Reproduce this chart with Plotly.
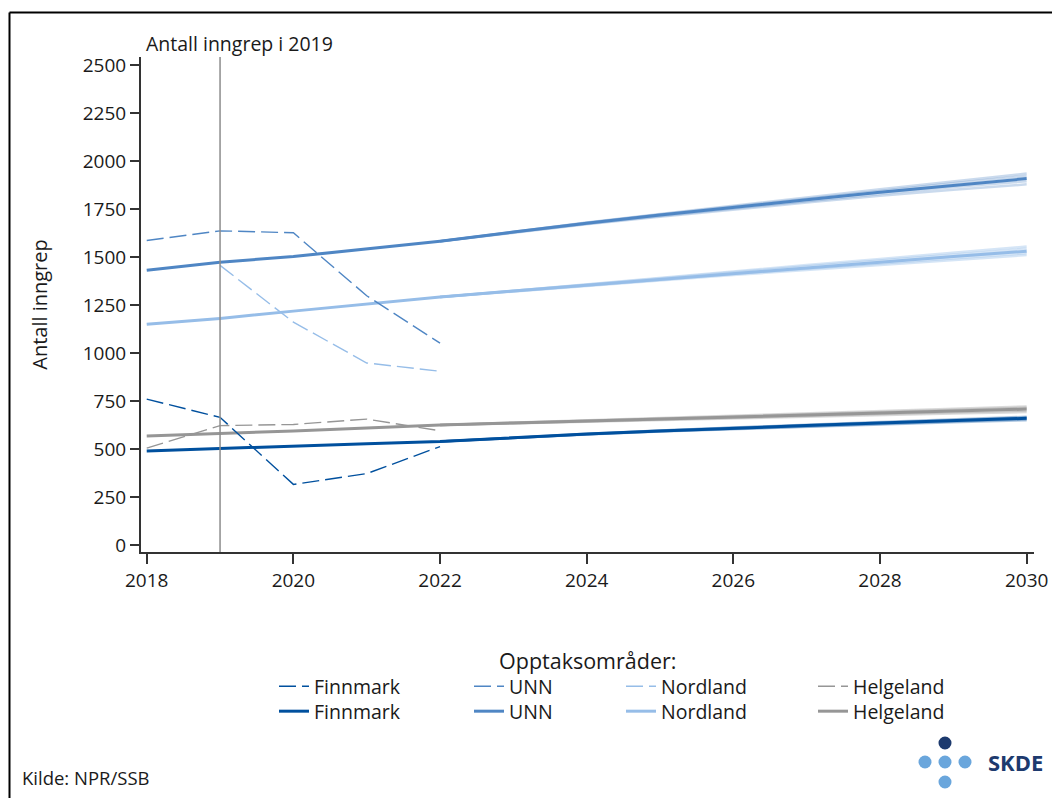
import plotly.graph_objects as go

# ---------------- data ----------------
regions = ["Finnmark", "UNN", "Nordland", "Helgeland"]
years = list(range(2018, 2031))
obs_years = [2018, 2019, 2020, 2021, 2022]
band_years = list(range(2022, 2031))

# observed number of procedures (dashed)
obs_finnmark = [762, 667, 318, 374, 515]
obs_unn = [1588, 1638, 1628, 1300, 1053]
obs_nordland = [None, 1458, 1163, 950, 907]
obs_helgeland = [507, 624, 630, 658, 597]

# projected, main scenario (solid)
proj_finnmark = [492, 505, 520, 530, 541, 561, 580, 596, 611, 624, 637, 650, 662]
proj_unn = [1433, 1475, 1504, 1543, 1584, 1632, 1678, 1720, 1761, 1800, 1839, 1876, 1910]
proj_nordland = [1152, 1182, 1220, 1257, 1293, 1325, 1355, 1387, 1418, 1447, 1475, 1504, 1532]
proj_helgeland = [570, 582, 596, 611, 627, 638, 648, 659, 669, 679, 689, 699, 710]

# alternative scenarios 2022-2030 (light fan lines)
alt_finnmark = [
    [541, 562, 582, 599, 615, 629, 643, 657, 670],
    [541, 561, 581, 598, 613, 627, 640, 654, 666],
    [541, 560, 579, 594, 608, 621, 633, 645, 657],
    [541, 560, 578, 593, 606, 618, 630, 641, 652],
]
alt_unn = [
    [1584, 1633, 1682, 1726, 1770, 1812, 1854, 1896, 1936],
    [1584, 1632, 1680, 1723, 1765, 1806, 1846, 1886, 1924],
    [1584, 1630, 1675, 1715, 1755, 1792, 1830, 1866, 1896],
    [1584, 1629, 1672, 1711, 1749, 1785, 1820, 1852, 1880],
]
alt_nordland = [
    [1293, 1327, 1359, 1394, 1428, 1460, 1492, 1525, 1556],
    [1293, 1326, 1357, 1390, 1423, 1453, 1483, 1515, 1545],
    [1293, 1324, 1352, 1383, 1413, 1441, 1468, 1496, 1522],
    [1293, 1323, 1350, 1380, 1408, 1434, 1460, 1486, 1512],
]
alt_helgeland = [
    [627, 639, 651, 663, 675, 687, 699, 711, 724],
    [627, 639, 650, 661, 672, 683, 694, 705, 717],
    [627, 637, 646, 656, 665, 675, 684, 693, 703],
    [627, 636, 645, 654, 662, 671, 679, 687, 695],
]

y_ticks = [0, 250, 500, 750, 1000, 1250, 1500, 1750, 2000, 2250, 2500]
x_ticks = [2018, 2020, 2022, 2024, 2026, 2028, 2030]

# ---------------- style ----------------
colors = {"Finnmark": "#00509e", "UNN": "#4f86c4", "Nordland": "#96bde8", "Helgeland": "#969696"}
band_rgba = {"Finnmark": "rgba(0,80,158,0.30)", "UNN": "rgba(79,134,196,0.30)",
             "Nordland": "rgba(150,189,232,0.40)", "Helgeland": "rgba(150,150,150,0.35)"}
FONT = "Open Sans"
TXT = "#1a1a1a"
W, H = 1052, 798
L, R, T, B = 141, 18, 57, 246
PW, PH = W - L - R, H - T - B


def px(xp):
    return (xp - L) / PW


def py(yp):
    return (H - B - yp) / PH


obs = {"Finnmark": obs_finnmark, "UNN": obs_unn, "Nordland": obs_nordland, "Helgeland": obs_helgeland}
proj = {"Finnmark": proj_finnmark, "UNN": proj_unn, "Nordland": proj_nordland, "Helgeland": proj_helgeland}
alts = {"Finnmark": alt_finnmark, "UNN": alt_unn, "Nordland": alt_nordland, "Helgeland": alt_helgeland}
legend_text_x = {"Finnmark": 316, "UNN": 511, "Nordland": 663, "Helgeland": 855}

legend_common = dict(orientation="v", xanchor="left", yanchor="top", traceorder="normal",
                     font=dict(family=FONT, size=19.5, color=TXT),
                     bgcolor="rgba(0,0,0,0)", tracegroupgap=0)
legends = {}

fig = go.Figure()

for r in regions:
    for a in alts[r]:
        fig.add_trace(go.Scatter(x=band_years, y=a, mode="lines", showlegend=False,
                                 hoverinfo="skip",
                                 line=dict(color=band_rgba[r], width=2.5)))

# solid (projection) entries -> legends 5..8 (second row)
for i, r in enumerate(regions):
    lid = "legend%d" % (5 + i)
    legends[lid] = dict(x=px(legend_text_x[r] - 42), y=py(692), **legend_common)
    fig.add_trace(go.Scatter(x=years, y=proj[r], mode="lines", name=r, legend=lid,
                             line=dict(color=colors[r], width=3)))

# dashed (observed) entries -> legends 1..4 (first row)
for i, r in enumerate(regions):
    lid = "legend" if i == 0 else "legend%d" % (1 + i)
    legends[lid] = dict(x=px(legend_text_x[r] - 42), y=py(667), **legend_common)
    fig.add_trace(go.Scatter(x=obs_years, y=obs[r], mode="lines", name=r, legend=lid,
                             line=dict(color=colors[r], width=1.4, dash="17px,6px")))

axis_common = dict(showline=True, linecolor="#333333", linewidth=2, ticks="outside",
                   tickcolor="#333333", tickwidth=2, showgrid=False, zeroline=False,
                   tickfont=dict(family=FONT, size=19, color=TXT))

fig.update_xaxes(range=[2017.922, 2030.1], tickvals=x_ticks, ticklen=10, **axis_common)
fig.update_yaxes(range=[-34, 2543], tickvals=y_ticks, ticklen=9, **axis_common,
                 title=dict(text="Antall inngrep", font=dict(family=FONT, size=20, color=TXT),
                            standoff=30))

shapes = [
    dict(type="line", xref="x", yref="paper", x0=2019, x1=2019, y0=0, y1=1,
         line=dict(color="#8c8c8c", width=1.5)),
    # frame (cropped)
    dict(type="line", xref="paper", yref="paper", x0=px(9.5), x1=px(1060), y0=py(12.5), y1=py(12.5),
         line=dict(color="black", width=2)),
    dict(type="line", xref="paper", yref="paper", x0=px(9.5), x1=px(9.5), y0=py(12.5), y1=py(810),
         line=dict(color="black", width=2)),
]
# logo dots
dot_r = 6.5
for (cx, cy, c) in [(945, 743, "#1d3a6e"), (925, 762, "#6aa6dc"), (945, 762, "#6aa6dc"),
                    (965, 762, "#6aa6dc"), (945, 782, "#6aa6dc")]:
    shapes.append(dict(type="circle", xref="paper", yref="paper",
                       x0=px(cx - dot_r), x1=px(cx + dot_r), y0=py(cy + dot_r), y1=py(cy - dot_r),
                       fillcolor=c, line=dict(width=0)))

annotations = [
    dict(text="Antall inngrep i 2019", xref="paper", yref="paper", x=px(144), y=py(43),
         xanchor="left", yanchor="middle", showarrow=False,
         font=dict(family=FONT, size=19.5, color=TXT)),
    dict(text="Opptaksområder:", xref="paper", yref="paper", x=px(587), y=py(660),
         xanchor="center", yanchor="middle", showarrow=False,
         font=dict(family=FONT, size=21.5, color=TXT)),
    dict(text="Kilde: NPR/SSB", xref="paper", yref="paper", x=px(20), y=py(777),
         xanchor="left", yanchor="middle", showarrow=False,
         font=dict(family=FONT, size=18.5, color=TXT)),
    dict(text="<b>SKDE</b>", xref="paper", yref="paper", x=px(986), y=py(762),
         xanchor="left", yanchor="middle", showarrow=False,
         font=dict(family=FONT, size=22, color="#1d3a6e")),
]

fig.update_layout(
    width=W, height=H,
    margin=dict(l=L, r=R, t=T, b=B, autoexpand=False),
    paper_bgcolor="white", plot_bgcolor="white",
    shapes=shapes, annotations=annotations,
    showlegend=True,
    font=dict(family=FONT),
    **legends,
)

fig.write_html("out.html", config={"displayModeBar": False},
               post_script="document.body.style.margin='0px';document.body.style.overflow='hidden';")
